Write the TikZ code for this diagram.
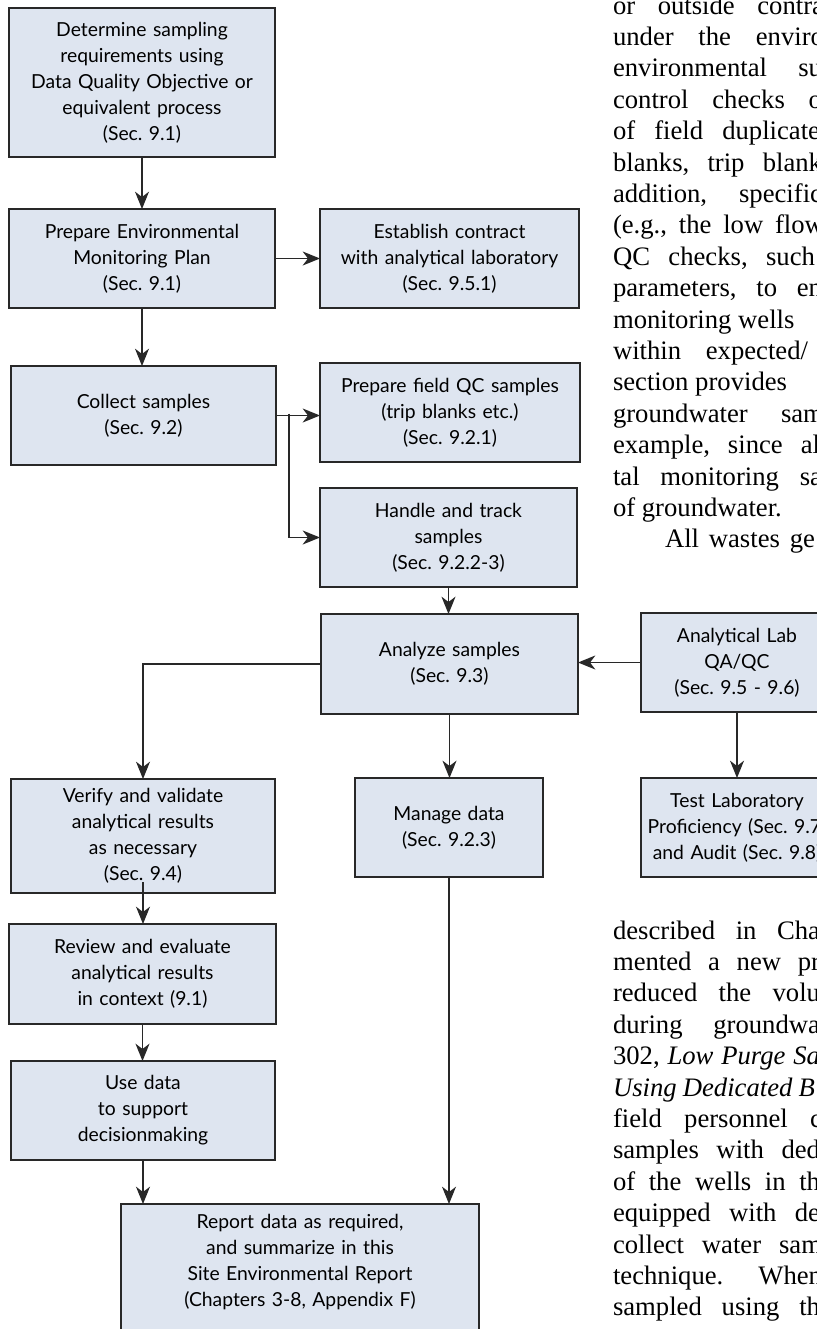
\documentclass[tikz,border=0pt]{standalone}
\usepackage{fontspec}
\setmainfont{Liberation Serif}
\newfontfamily\boxfont{Lato}
\usetikzlibrary{arrows.meta}
\definecolor{boxfill}{RGB}{222,229,240}
\definecolor{boxline}{RGB}{40,40,40}
\definecolor{arrline}{RGB}{40,40,40}
\newcommand\jline[2]{\makebox[#1pt][s]{#2}}
\frenchspacing
\begin{document}
\begin{tikzpicture}[x=0.75pt,y=-0.75pt,
  flowbox/.style={draw=boxline, fill=boxfill, line width=1.1pt, inner sep=0pt, outer sep=0pt,
    align=center, font=\boxfont\fontsize{14.5pt}{19.5pt}\selectfont, text=black},
  arr/.style={draw=arrline, line width=1pt, -{Stealth[length=13pt, width=10.5pt, inset=4pt]}},
  bodyline/.style={anchor=base west, inner sep=0pt, outer sep=0pt,
    font=\fontsize{20pt}{23.5pt}\selectfont, text=black}]
\useasboundingbox (0,0) rectangle (817,1329);
\clip (0,0) rectangle (817,1329);
\fill[white] (0,0) rectangle (817,1329);

% ---------- flow boxes ----------
\node[flowbox, text width=199.5pt, minimum height=111.75pt] (det) at (142,82.5)
  {Determine sampling\\requirements using\\Data Quality Objective or\\equivalent process\\(Sec. 9.1)};
\node[flowbox, text width=199.5pt, minimum height=74.25pt] (plan) at (142,258.5)
  {Prepare Environmental\\Monitoring Plan\\(Sec. 9.1)};
\node[flowbox, text width=194.25pt, minimum height=74.25pt] (contract) at (449.5,258.5)
  {Establish contract\\with analytical laboratory\\(Sec. 9.5.1)};
\node[flowbox, text width=198.75pt, minimum height=74.25pt] (collect) at (143.5,415.5)
  {Collect samples\\(Sec. 9.2)};
\node[flowbox, text width=195pt, minimum height=74.25pt] (qc) at (450,412.5)
  {Prepare field QC samples\\(trip blanks etc.)\\(Sec. 9.2.1)};
\node[flowbox, text width=192.75pt, minimum height=74.25pt] (handle) at (448.5,537.5)
  {Handle and track\\samples\\(Sec. 9.2.2-3)};
\node[flowbox, text width=192.75pt, minimum height=75pt] (analyze) at (449.5,664)
  {Analyze samples\\(Sec. 9.3)};
\node[flowbox, text width=144pt, minimum height=74.25pt] (lab) at (737,662.5)
  {Analytical Lab\\QA/QC\\(Sec. 9.5 - 9.6)};
\node[flowbox, text width=198pt, minimum height=85.5pt] (verify) at (143,836)
  {Verify and validate\\analytical results\\as necessary\\(Sec. 9.4)};
\node[flowbox, text width=141pt, minimum height=74.25pt] (manage) at (449,827.5)
  {Manage data\\(Sec. 9.2.3)};
\node[flowbox, text width=144pt, minimum height=74.25pt] (testlab) at (737,827.5)
  {Test Laboratory\\Proficiency (Sec. 9.7)\\and Audit (Sec. 9.8)};
\node[flowbox, text width=200.25pt, minimum height=75pt] (review) at (142.5,974)
  {Review and evaluate\\analytical results\\in context (9.1)};
\node[flowbox, text width=198pt, minimum height=74.25pt] (use) at (143,1110.5)
  {Use data\\to support\\decisionmaking};
\fill[boxfill] (121,1262) rectangle (479,1345);
\node[flowbox, draw=none, text width=268.5pt, minimum height=87pt] (report) at (300,1262)
  {Report data as required,\\and summarize in this\\Site Environmental Report\\(Chapters 3-8, Appendix F)};
\draw[boxline, line width=1.1pt] ([yshift=-20pt]report.south west) -- (report.north west)
  -- (report.north east) -- ([yshift=-20pt]report.south east);

% ---------- connectors ----------
\draw[arr] (det.south) -- (plan.north);
\draw[arr] (plan.east) -- (contract.west);
\draw[arr] (plan.south) -- (plan.south |- collect.north);
\draw[arr] (collect.east) -- (collect.east -| qc.west);
\coordinate (branch) at ([xshift=9.75pt,yshift=1.5pt]collect.east);
\draw[arr] (branch) |- (handle.west);
\draw[arr] (handle.south) -- (handle.south |- analyze.north);
\draw[arr] (lab.west) -- (lab.west -| analyze.east);
\draw[arr] (analyze.west) -| (verify.north);
\draw[arr] (analyze.south) -- (analyze.south |- manage.north);
\draw[arr] (lab.south) -- (lab.south |- testlab.north);
\draw[arr] ([yshift=8.25pt]verify.south) -- (verify.south |- review.north);
\draw[arr] (review.south) -- (review.south |- use.north);
\draw[arr] (use.south) -- (use.south |- report.north);
\draw[arr] (manage.south) -- (manage.south |- report.north);

% ---------- running text (upper block) ----------
\node[bodyline] (u1)  at (613,14)    {\jline{158.25}{or outside contra}};
\node[bodyline] (u2)  at (613,45.4)  {\jline{158.25}{under the enviro}};
\node[bodyline] (u3)  at (613,76.8)  {\jline{156.75}{environmental su}};
\node[bodyline] (u4)  at (613,108.2) {\jline{156.75}{control checks o}};
\node[bodyline] (u5)  at (613,139.6) {\jline{155.25}{of field duplicate}};
\node[bodyline] (u6)  at (613,171)   {\jline{156.75}{blanks, trip blank}};
\node[bodyline] (u7)  at (613,202.4) {\jline{156.75}{addition, specific}};
\node[bodyline] (u8)  at (613,233.8) {\jline{158.25}{(e.g., the low flow}};
\node[bodyline] (u9)  at (613,265.2) {\jline{151.5}{QC checks, such}};
\node[bodyline] (u10) at (613,296.6) {\jline{156.75}{parameters, to en}};
\node[bodyline] (u11) at (613,328)   {monitoring wells};
\node[bodyline] (u12) at (613,359.4) {\jline{146.25}{within expected/}};
\node[bodyline] (u13) at (613,390.8) {section provides};
\node[bodyline] (u14) at (613,422.2) {\jline{158.25}{groundwater sam}};
\node[bodyline] (u15) at (613,453.6) {\jline{155.25}{example, since al}};
\node[bodyline] (u16) at (613,485)   {\jline{156.75}{tal monitoring sa}};
\node[bodyline] (u17) at (613,516.4) {of groundwater.};
\node[bodyline] (u18) at (665,547.8) {\jline{112.5}{All wastes ge}};

% ---------- running text (lower block) ----------
\node[bodyline] (l1)  at (613,939)   {\jline{155.25}{described in Cha}};
\node[bodyline] (l2)  at (613,970.4) {\jline{155.25}{mented a new pr}};
\node[bodyline] (l3)  at (613,1001.8){\jline{155.25}{reduced the volu}};
\node[bodyline] (l4)  at (613,1033.2){\jline{155.25}{during groundwa}};
\node[bodyline] (l5)  at (613,1064.6){\jline{155.25}{302, \textit{Low Purge Sa}}};
\node[bodyline] (l6)  at (613,1096)  {\jline{151.5}{\textit{Using Dedicated B}}};
\node[bodyline] (l7)  at (613,1127.4){\jline{156.75}{field personnel c}};
\node[bodyline] (l8)  at (613,1158.8){\jline{155.25}{samples with ded}};
\node[bodyline] (l9)  at (613,1190.2){\jline{155.25}{of the wells in th}};
\node[bodyline] (l10) at (613,1221.6){\jline{155.25}{equipped with de}};
\node[bodyline] (l11) at (613,1253)  {\jline{156.75}{collect water sam}};
\node[bodyline] (l12) at (613,1284.4){\jline{156.75}{technique.\ \ When}};
\node[bodyline] (l13) at (613,1315.8){\jline{155.25}{sampled using th}};
\end{tikzpicture}
\end{document}
